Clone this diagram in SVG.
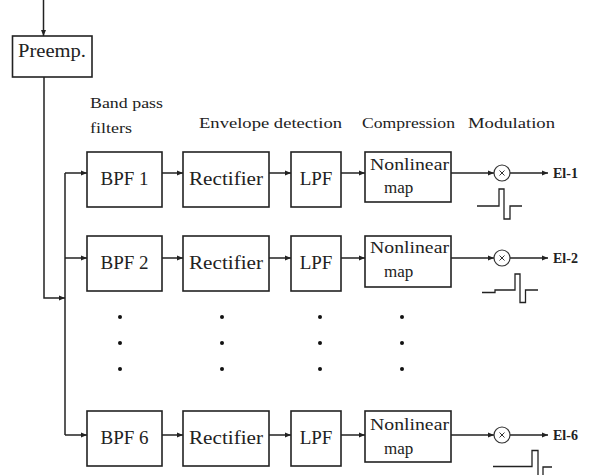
<svg xmlns="http://www.w3.org/2000/svg" width="590" height="475" viewBox="0 0 590 475">
<style>
.box{fill:#fff;stroke:#222;stroke-width:1.6}
.ln{fill:none;stroke:#222;stroke-width:1.5}
.arr{marker-end:url(#ah)}
text{font-family:'Liberation Serif', 'DejaVu Serif', serif;fill:#222}
.bt{font-size:19px;text-anchor:middle}
.nt{font-size:17px}
.hd{font-size:15px}
.el{font-size:14px;font-weight:bold}
.mul{fill:#fff;stroke:#333;stroke-width:1.2}
.x{stroke:#333;stroke-width:1}
.dot{fill:#111}
</style>
<defs>
<marker id="ah" markerUnits="userSpaceOnUse" markerWidth="6" markerHeight="6" refX="6" refY="3" orient="auto">
<path d="M0,0.5 L6,3 L0,5.5 z" fill="#222"/>
</marker>
</defs>

<g id="connectors">
<path class="ln arr" d="M43.5,0 V36"/>
<path class="ln arr" d="M44,77 V298 H65"/>
<path class="ln" d="M65,173 V435"/>
<path class="ln arr" d="M65,173 H87"/>
<path class="ln arr" d="M65,258 H87"/>
<path class="ln arr" d="M65,435 H87"/>
<path class="ln arr" d="M162,173 H183"/>
<path class="ln arr" d="M269,173 H291"/>
<path class="ln arr" d="M341,173 H365"/>
<path class="ln arr" d="M451,173 H494"/>
<path class="ln arr" d="M510,173 H548"/>
<path class="ln arr" d="M162,258 H183"/>
<path class="ln arr" d="M269,258 H291"/>
<path class="ln arr" d="M341,258 H365"/>
<path class="ln arr" d="M451,258 H494"/>
<path class="ln arr" d="M510,258 H548"/>
<path class="ln arr" d="M162,435 H183"/>
<path class="ln arr" d="M269,435 H291"/>
<path class="ln arr" d="M341,435 H365"/>
<path class="ln arr" d="M451,435 H494"/>
<path class="ln arr" d="M510,435 H548"/>
</g>

<g id="preemp"><rect class="box" x="12.5" y="36" width="79.5" height="41"/><text class="bt" x="52" y="57" textLength="68" lengthAdjust="spacingAndGlyphs" font-family="Liberation Serif">Preemp.</text></g>

<g id="bpf1"><rect class="box" x="87" y="152" width="75" height="55"/><text class="bt" x="124.5" y="185">BPF 1</text></g>
<g id="rect1"><rect class="box" x="183" y="152" width="86" height="55"/><text class="bt" x="226" y="185" textLength="74" lengthAdjust="spacingAndGlyphs">Rectifier</text></g>
<g id="lpf1"><rect class="box" x="291" y="152" width="50" height="55"/><text class="bt" x="316" y="185">LPF</text></g>
<g id="nl1"><rect class="box" x="365" y="152" width="86" height="50"/><text class="nt" x="370" y="170" textLength="79" lengthAdjust="spacingAndGlyphs">Nonlinear</text><text class="nt" x="384" y="193">map</text></g>
<g id="mul1"><circle class="mul" cx="502" cy="173" r="8"/><path class="x" d="M499.5,170.5 L504.5,175.5 M504.5,170.5 L499.5,175.5"/></g>
<g id="out1"><text class="el" x="553" y="178">El-1</text></g>

<g id="bpf2"><rect class="box" x="87" y="236" width="75" height="55"/><text class="bt" x="124.5" y="269">BPF 2</text></g>
<g id="rect2"><rect class="box" x="183" y="236" width="86" height="55"/><text class="bt" x="226" y="269" textLength="74" lengthAdjust="spacingAndGlyphs">Rectifier</text></g>
<g id="lpf2"><rect class="box" x="291" y="236" width="50" height="55"/><text class="bt" x="316" y="269">LPF</text></g>
<g id="nl2"><rect class="box" x="365" y="236" width="86" height="51"/><text class="nt" x="370" y="253" textLength="79" lengthAdjust="spacingAndGlyphs">Nonlinear</text><text class="nt" x="384" y="277">map</text></g>
<g id="mul2"><circle class="mul" cx="502" cy="258" r="8"/><path class="x" d="M499.5,255.5 L504.5,260.5 M504.5,255.5 L499.5,260.5"/></g>
<g id="out2"><text class="el" x="553" y="263">El-2</text></g>

<g id="bpf6"><rect class="box" x="87" y="411" width="75" height="55"/><text class="bt" x="124.5" y="444">BPF 6</text></g>
<g id="rect6"><rect class="box" x="183" y="411" width="86" height="55"/><text class="bt" x="226" y="444" textLength="74" lengthAdjust="spacingAndGlyphs">Rectifier</text></g>
<g id="lpf6"><rect class="box" x="291" y="411" width="50" height="55"/><text class="bt" x="316" y="444">LPF</text></g>
<g id="nl6"><rect class="box" x="365" y="411" width="86" height="51"/><text class="nt" x="370" y="430" textLength="79" lengthAdjust="spacingAndGlyphs">Nonlinear</text><text class="nt" x="384" y="454">map</text></g>
<g id="mul6"><circle class="mul" cx="502" cy="435" r="8"/><path class="x" d="M499.5,432.5 L504.5,437.5 M504.5,432.5 L499.5,437.5"/></g>
<g id="out6"><text class="el" x="553" y="440">El-6</text></g>

<g id="headers">
<text class="hd" x="90" y="108" textLength="73" lengthAdjust="spacingAndGlyphs">Band pass</text>
<text class="hd" x="90" y="133" textLength="42" lengthAdjust="spacingAndGlyphs">filters</text>
<text class="hd" x="199" y="128" textLength="143" lengthAdjust="spacingAndGlyphs">Envelope detection</text>
<text class="hd" x="362" y="128" textLength="93" lengthAdjust="spacingAndGlyphs">Compression</text>
<text class="hd" x="468" y="128" textLength="87" lengthAdjust="spacingAndGlyphs">Modulation</text>
</g>

<g id="dots">
<circle class="dot" cx="120" cy="317" r="2"/><circle class="dot" cx="120" cy="343" r="2"/><circle class="dot" cx="120" cy="369" r="2"/>
<circle class="dot" cx="222" cy="317" r="2"/><circle class="dot" cx="222" cy="343" r="2"/><circle class="dot" cx="222" cy="369" r="2"/>
<circle class="dot" cx="320" cy="317" r="2"/><circle class="dot" cx="320" cy="343" r="2"/><circle class="dot" cx="320" cy="369" r="2"/>
<circle class="dot" cx="402" cy="317" r="2"/><circle class="dot" cx="402" cy="343" r="2"/><circle class="dot" cx="402" cy="369" r="2"/>
</g>

<g id="pulses" fill="none" stroke="#222" stroke-width="1.3">
<path d="M477,206 H499 V189 H504 V219 H510 V206 H522"/>
<path d="M482,292.5 H495 V290 H515 V274 H520 V302.5 H525.5 V290 H538"/>
<path d="M493,466.5 H532 V450.5 H538 V480 M543,480 V467 H552"/>
</g>
</svg>
